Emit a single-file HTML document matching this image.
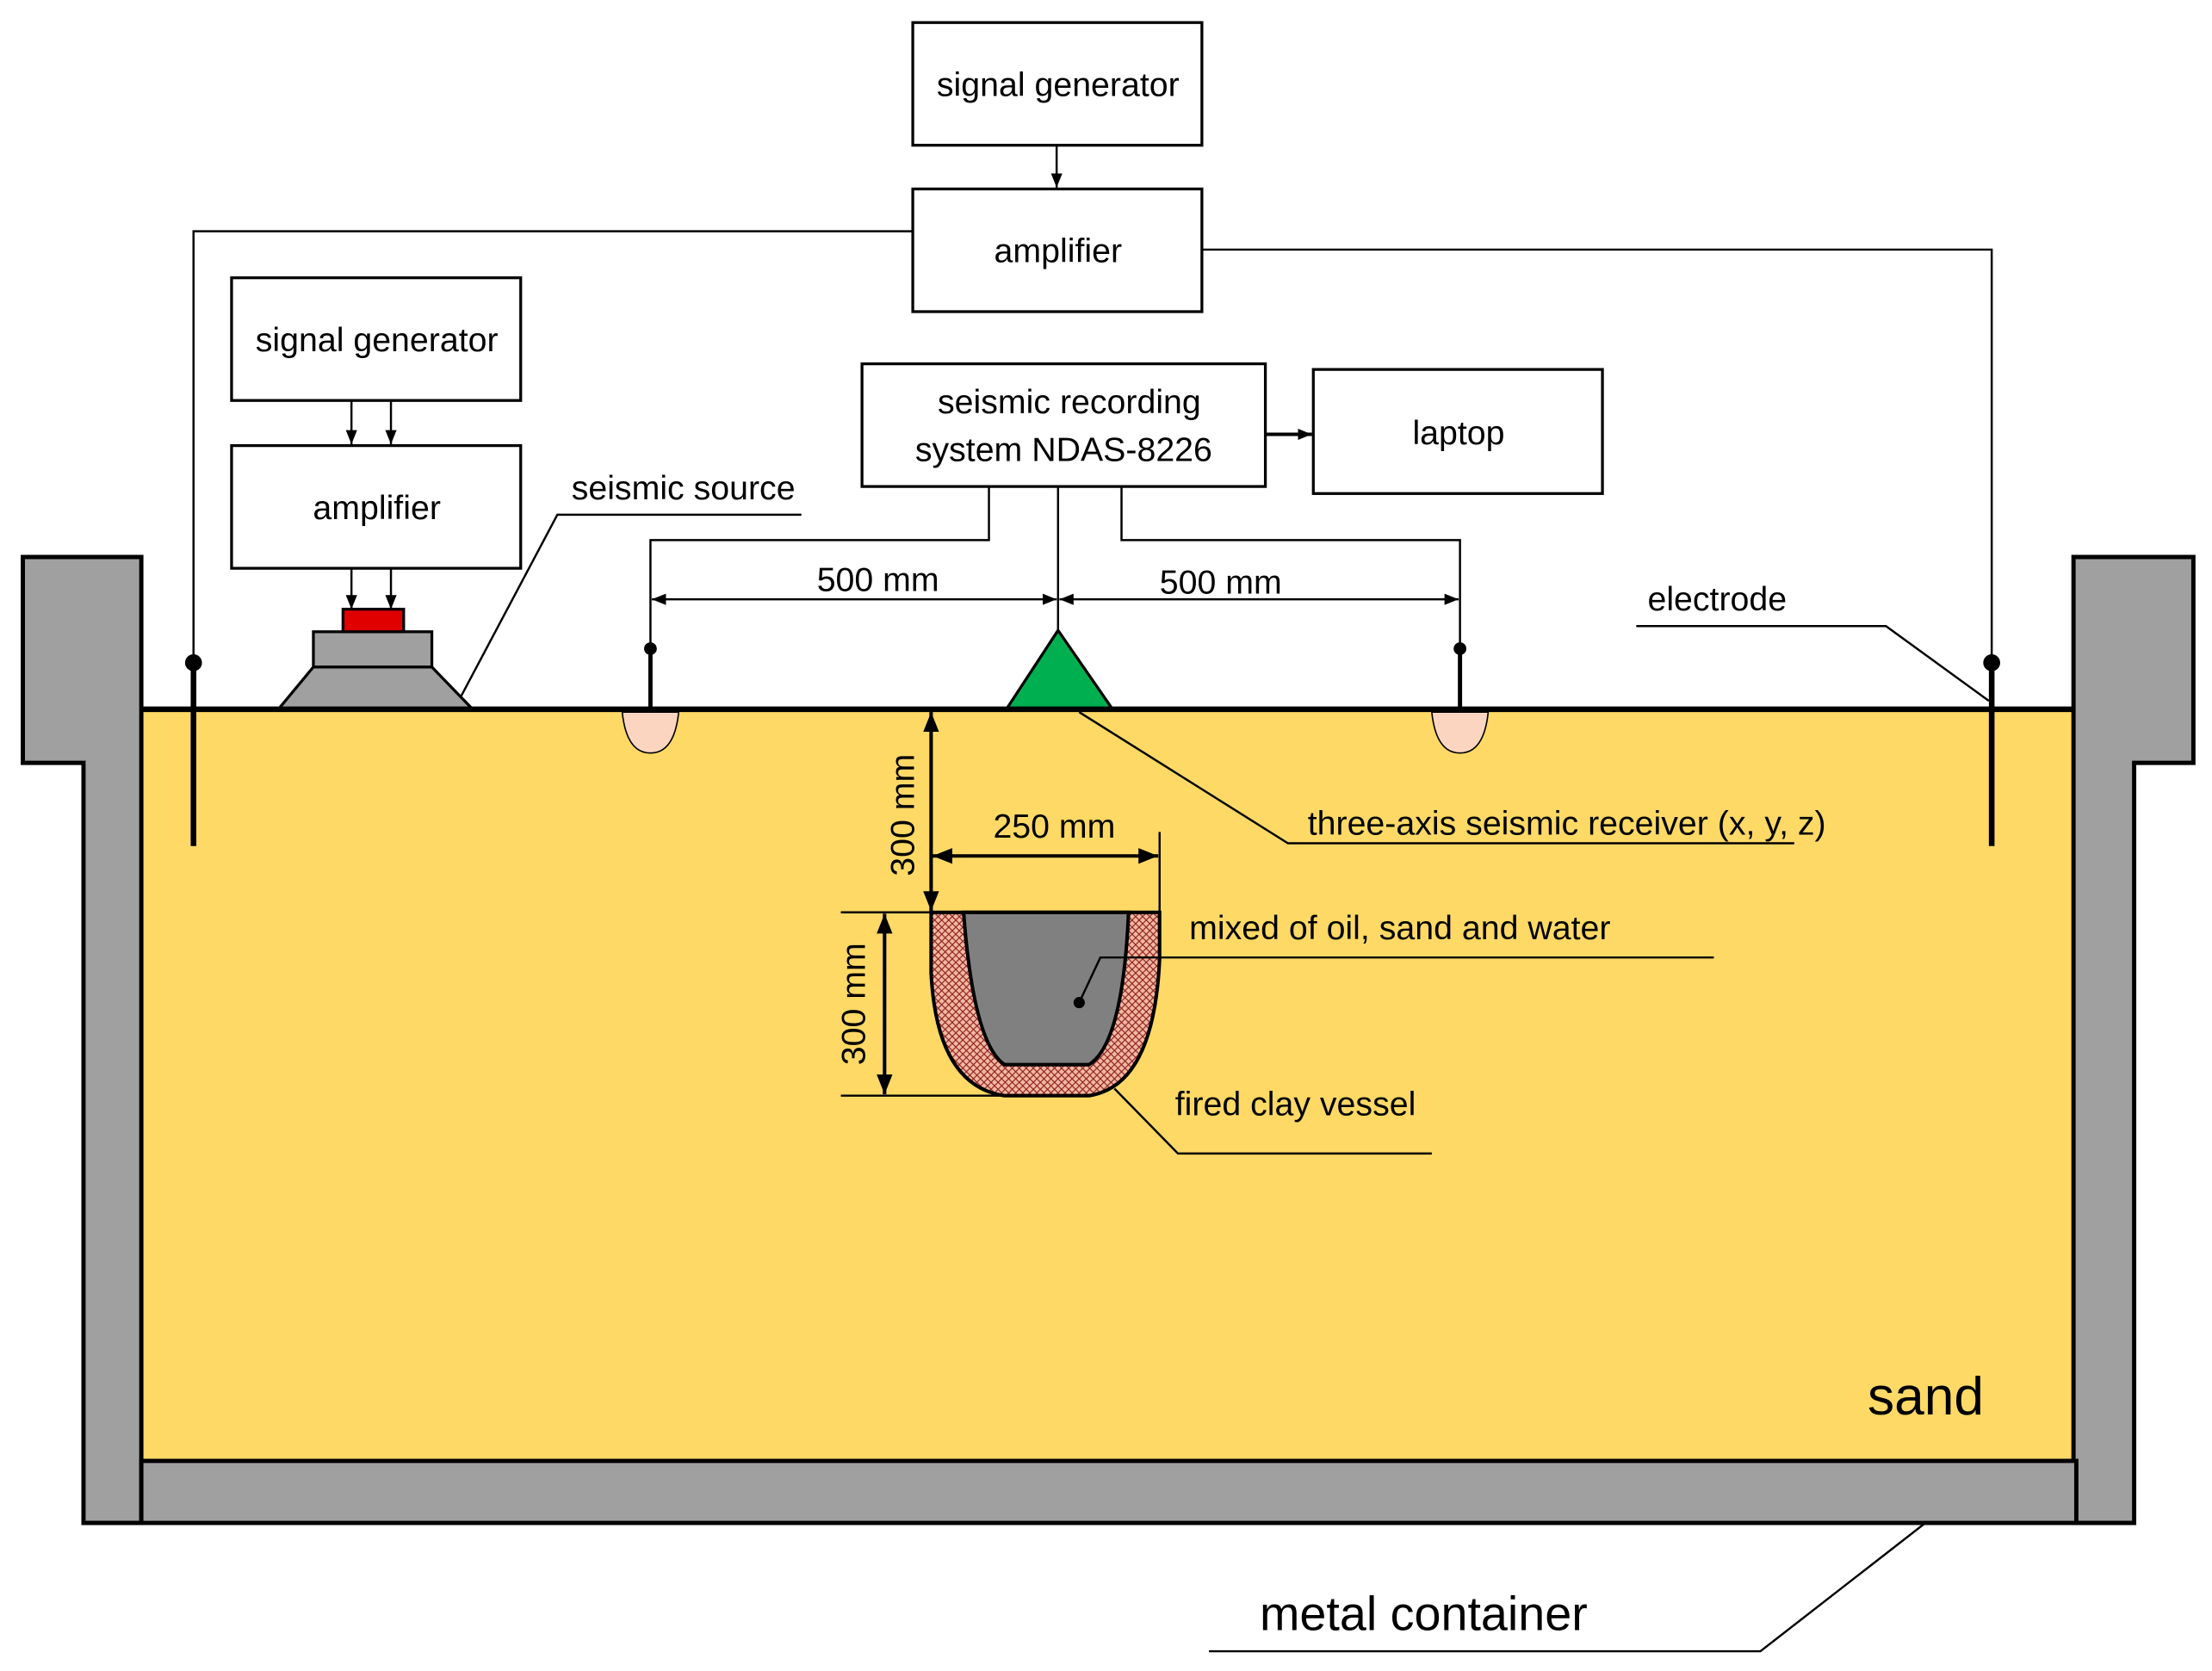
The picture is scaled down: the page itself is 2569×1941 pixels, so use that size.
<!DOCTYPE html>
<html><head><meta charset="utf-8"><style>html,body{margin:0;padding:0;background:#fff}svg{display:block}</style></head>
<body>
<svg width="2569" height="1941" viewBox="0 0 1568 1185" xmlns="http://www.w3.org/2000/svg" font-family="Liberation Sans, sans-serif">
<defs>
<marker id="a" viewBox="0 0 10 10" refX="10" refY="5" markerWidth="10" markerHeight="10" orient="auto-start-reverse" markerUnits="userSpaceOnUse"><path d="M0,1 L10,5 L0,9 z" fill="#000"/></marker>
<marker id="b" viewBox="0 0 10 10" refX="10" refY="5" markerWidth="14" markerHeight="14" orient="auto-start-reverse" markerUnits="userSpaceOnUse"><path d="M0,1 L10,5 L0,9 z" fill="#000"/></marker>
<pattern id="hatch" width="5" height="5" patternUnits="userSpaceOnUse"><rect width="5" height="5" fill="#f4b8a0"/><path d="M0,0 L5,5 M5,0 L0,5" stroke="#8b2020" stroke-width="0.7"/></pattern>
</defs>
<rect x="100" y="503" width="1370" height="533" fill="#ffd966"/>
<g fill="#a0a0a0" stroke="#000" stroke-width="3">
<polygon points="16,395 100,395 100,1080 59,1080 59,541 16,541"/>
<polygon points="1470,395 1555,395 1555,541 1513,541 1513,1080 1470,1080"/>
<rect x="100" y="1036" width="1372" height="44"/>
</g>
<line x1="100" y1="503" x2="1470" y2="503" stroke="#000" stroke-width="4"/>
<g fill="#fff" stroke="#000" stroke-width="2">
<rect x="647" y="16" width="205" height="87"/>
<rect x="647" y="134" width="205" height="87"/>
<rect x="164" y="197" width="205" height="87"/>
<rect x="164" y="316" width="205" height="87"/>
<rect x="611" y="258" width="286" height="87"/>
<rect x="931" y="262" width="205" height="88"/>
</g>
<g font-size="24" text-anchor="middle" fill="#000">
<text x="750" y="68">signal generator</text>
<text x="750" y="186">amplifier</text>
<text x="267" y="249">signal generator</text>
<text x="267" y="368">amplifier</text>
<text x="758" y="293">seismic recording</text>
<text x="754" y="327">system NDAS-8226</text>
<text x="1034" y="315">laptop</text>
</g>
<!-- vessel -->
<path d="M660,647 L822,647 L822,680 Q818,770 772,777 L712,777 Q664,770 660,690 Z" fill="url(#hatch)" stroke="#000" stroke-width="2.5"/>
<path d="M683,647 L800,647 Q796,740 772,755 L712,755 Q690,740 683,647 Z" fill="#808080" stroke="#000" stroke-width="2.5"/>
<circle cx="765" cy="711" r="4"/>
<g stroke="#000" stroke-width="1.5" fill="none">
<line x1="749" y1="103" x2="749" y2="133" marker-end="url(#a)"/>
<line x1="249" y1="284" x2="249" y2="315" marker-end="url(#a)"/>
<line x1="277" y1="284" x2="277" y2="315" marker-end="url(#a)"/>
<line x1="249" y1="403" x2="249" y2="432" marker-end="url(#a)"/>
<line x1="277" y1="403" x2="277" y2="432" marker-end="url(#a)"/>
<line x1="897" y1="308" x2="930" y2="308" stroke-width="2.5" marker-end="url(#a)"/>
<polyline points="647,164 137,164 137,470"/>
<polyline points="852,177 1412,177 1412,470"/>
<polyline points="701,345 701,383 461,383 461,460"/>
<polyline points="795,345 795,383 1035,383 1035,460"/>
<line x1="750" y1="345" x2="750" y2="447"/>
<line x1="462" y1="425" x2="749" y2="425" marker-start="url(#a)" marker-end="url(#a)"/>
<line x1="751" y1="425" x2="1034" y2="425" marker-start="url(#a)" marker-end="url(#a)"/>
<polyline points="568,365 395,365 325,497"/>
<polyline points="1160,444 1337,444 1410,497"/>
<polyline points="765,505 913,598 1272,598"/>
<polyline points="1215,679 780,679 765,711"/>
<polyline points="790,772 835,818 1015,818"/>
<polyline points="857,1171 1248,1171 1365,1080"/>
<line x1="596" y1="647" x2="660" y2="647"/>
<line x1="596" y1="777" x2="712" y2="777"/>
<line x1="822" y1="590" x2="822" y2="647"/>
</g>
<g stroke="#000" stroke-width="2.5">
<line x1="660" y1="505" x2="660" y2="646" marker-start="url(#b)" marker-end="url(#b)"/>
<line x1="661" y1="607" x2="821" y2="607" marker-start="url(#b)" marker-end="url(#b)"/>
<line x1="627" y1="648" x2="627" y2="776" marker-start="url(#b)" marker-end="url(#b)"/>
</g>
<g stroke="#000" stroke-width="4"><line x1="137" y1="470" x2="137" y2="600"/><line x1="1412" y1="470" x2="1412" y2="600"/><line x1="461" y1="460" x2="461" y2="505" stroke-width="3"/><line x1="1035" y1="460" x2="1035" y2="505" stroke-width="3"/></g>
<circle cx="137" cy="470" r="6"/><circle cx="1412" cy="470" r="6"/>
<circle cx="461" cy="460" r="4.5"/><circle cx="1035" cy="460" r="4.5"/>
<path d="M441,505 Q444,534 461,534 Q478,534 481,505 Z" fill="#fcd5c0" stroke="#000" stroke-width="1"/>
<path d="M1015,505 Q1018,534 1035,534 Q1052,534 1055,505 Z" fill="#fcd5c0" stroke="#000" stroke-width="1"/>
<g stroke="#000" stroke-width="2">
<polygon points="222,473 306,473 334,502 198,502" fill="#a0a0a0"/>
<rect x="222" y="448" width="84" height="25" fill="#a0a0a0"/>
<rect x="243" y="432" width="43" height="16" fill="#e00000"/>
<polygon points="750,447 714,502 788,502" fill="#00b050"/>
</g>
<g font-size="24" fill="#000">
<text x="405" y="354">seismic source</text>
<text x="579" y="419">500 mm</text>
<text x="822" y="421">500 mm</text>
<text x="1168" y="433">electrode</text>
<text x="927" y="592">three-axis seismic receiver (x, y, z)</text>
<text x="704" y="594">250 mm</text>
<text x="843" y="666">mixed of oil, sand and water</text>
<text x="833" y="791">fired clay vessel</text>
<text transform="translate(648,578) rotate(-90)" text-anchor="middle">300 mm</text>
<text transform="translate(613,712) rotate(-90)" text-anchor="middle">300 mm</text>
<text x="1324" y="1003" font-size="38">sand</text>
<text x="893" y="1156" font-size="34">metal  container</text>
</g>
</svg>
</body></html>
